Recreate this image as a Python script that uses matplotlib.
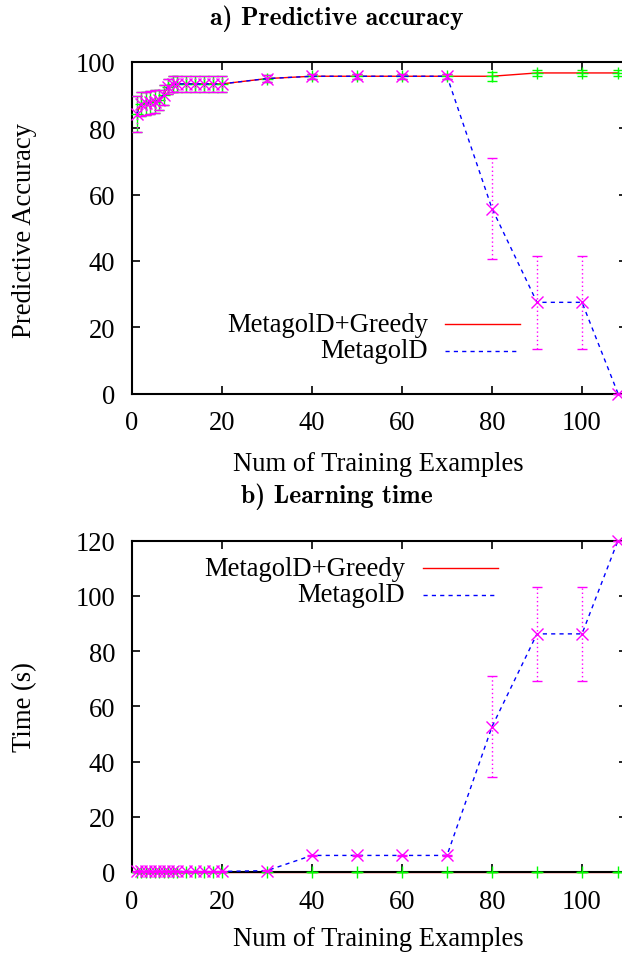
import matplotlib
matplotlib.use('Agg')
import matplotlib.pyplot as plt
from matplotlib.lines import Line2D

W, H = 622, 954

# number of training examples
n_train = [1, 2, 3, 4, 5, 6, 7, 8, 9, 10, 12, 14, 16, 18, 20, 30, 40, 50, 60, 70, 80, 90, 100, 108]

# a) predictive accuracy
acc_greedy = [84.3, 87.3, 87.5, 87.8, 88.0, 88.6, 90.0, 92.6, 93.4, 93.4, 93.4, 93.4, 93.4, 93.4, 93.4,
              95.0, 95.7, 95.7, 95.7, 95.7, 95.7, 96.7, 96.7, 96.7]
acc_greedy_err = [5.5, 3.5, 3.5, 3.5, 3.5, 3.0, 3.0, 2.4, 2.3, 2.3, 2.3, 2.3, 2.3, 2.3, 2.3,
                  1.0, 0.8, 0.8, 0.8, 0.8, 1.3, 1.0, 1.0, 1.0]
acc_metagol = [84.3, 87.3, 87.5, 87.8, 88.0, 88.6, 90.0, 92.6, 93.4, 93.4, 93.4, 93.4, 93.4, 93.4, 93.4,
               95.0, 95.7, 95.7, 95.7, 95.7, 55.8, 27.5, 27.5, 0.0]
acc_metagol_err = [5.5, 3.5, 3.5, 3.5, 3.5, 3.0, 3.0, 2.4, 2.3, 2.3, 2.3, 2.3, 2.3, 2.3, 2.3,
                   1.0, 0.8, 0.8, 0.8, 0.8, 15.3, 14.0, 14.0, 0.0]

# b) learning time
time_greedy = [0.0] * 24
time_greedy_err = [0.0] * 24
time_metagol = [0.2, 0.2, 0.2, 0.2, 0.2, 0.2, 0.2, 0.2, 0.2, 0.2, 0.2, 0.2, 0.2, 0.2, 0.2,
                0.5, 6.0, 6.0, 6.0, 6.0, 52.6, 86.2, 86.2, 120.0]
time_metagol_err = [0.1] * 20 + [18.2, 17.1, 17.1, 0.0]

SERIF = ['Liberation Serif', 'DejaVu Serif']
plt.rcParams['font.family'] = SERIF
plt.rcParams['font.size'] = 19.2


def noclip(eb):
    line, caps, bars = eb
    line.set_clip_on(False)
    for c in caps:
        c.set_clip_on(False)
    for b in bars:
        b.set_clip_on(False)


def draw(ax, yg, yg_err, ym, ym_err):
    ax.plot(n_train, yg, color='#ff0000', lw=1.0, clip_on=False, zorder=2)
    eb = ax.errorbar(n_train, yg, yerr=yg_err, fmt='+', color='#00ff00', ms=8, mew=1.0,
                     elinewidth=1.0, capsize=3.5, capthick=1.0, zorder=3)
    noclip(eb)
    ax.plot(n_train, ym, color='#0000ff', lw=1.0, ls=(0, (3, 3)), clip_on=False, zorder=4)
    eb = ax.errorbar(n_train, ym, yerr=ym_err, fmt='x', color='#ff00ff', ms=9, mew=1.0,
                     elinewidth=1.0, capsize=3.5, capthick=1.0, zorder=5)
    noclip(eb)
    eb[2][0].set_linestyle((0, (1, 2)))
    ax.set_xlim(0, 110)
    ax.set_xticks([0, 20, 40, 60, 80, 100])
    ax.tick_params(direction='in', length=6, width=1.2, top=True, right=True, pad=12)
    for s in ax.spines.values():
        s.set_linewidth(1.5)


def legend(xr, x0, x1, y1, y2, c1):
    fig.text(xr / W, 1 - y1 / H, 'MetagolD+Greedy', ha='right', va='center')
    fig.text(xr / W, 1 - y2 / H, 'MetagolD', ha='right', va='center')
    fig.add_artist(Line2D([x0 / W, x1 / W], [1 - y1 / H, 1 - y1 / H], color=c1, lw=1.0))
    fig.add_artist(Line2D([x0 / W, x1 / W], [1 - y2 / H, 1 - y2 / H], color='#0000ff', lw=1.0,
                          ls=(0, (3, 3))))


fig = plt.figure(figsize=(W / 100, H / 100), dpi=100)
ax1 = fig.add_axes([132 / W, (H - 394.5) / H, 495 / W, 331.5 / H])
ax2 = fig.add_axes([132 / W, (H - 873) / H, 495 / W, 331.5 / H])

draw(ax1, acc_greedy, acc_greedy_err, acc_metagol, acc_metagol_err)
ax1.set_ylim(0, 100)
ax1.set_yticks([0, 20, 40, 60, 80, 100])

draw(ax2, time_greedy, time_greedy_err, time_metagol, time_metagol_err)
ax2.set_ylim(0, 120)
ax2.set_yticks([0, 20, 40, 60, 80, 100, 120])

legend(428, 445, 520, 325, 352, '#ff0000')
legend(405, 423, 498, 569, 596, '#ff0000')

fig.text(337 / W, 1 - 19 / H, 'a) Predictive accuracy', family='cmb10', fontsize=18.5,
         ha='center', va='center')
fig.text(337 / W, 1 - 497 / H, 'b) Learning time', family='cmb10', fontsize=18.5,
         ha='center', va='center')

fig.text(378 / W, 1 - 465 / H, 'Num of Training Examples', ha='center', va='center')
fig.text(378 / W, 1 - 940 / H, 'Num of Training Examples', ha='center', va='center')
fig.text(25 / W, 1 - 230 / H, 'Predictive Accuracy', rotation=90, ha='center', va='center')
fig.text(25 / W, 1 - 707 / H, 'Time (s)', rotation=90, ha='center', va='center')

fig.savefig('out.png', dpi=100)
